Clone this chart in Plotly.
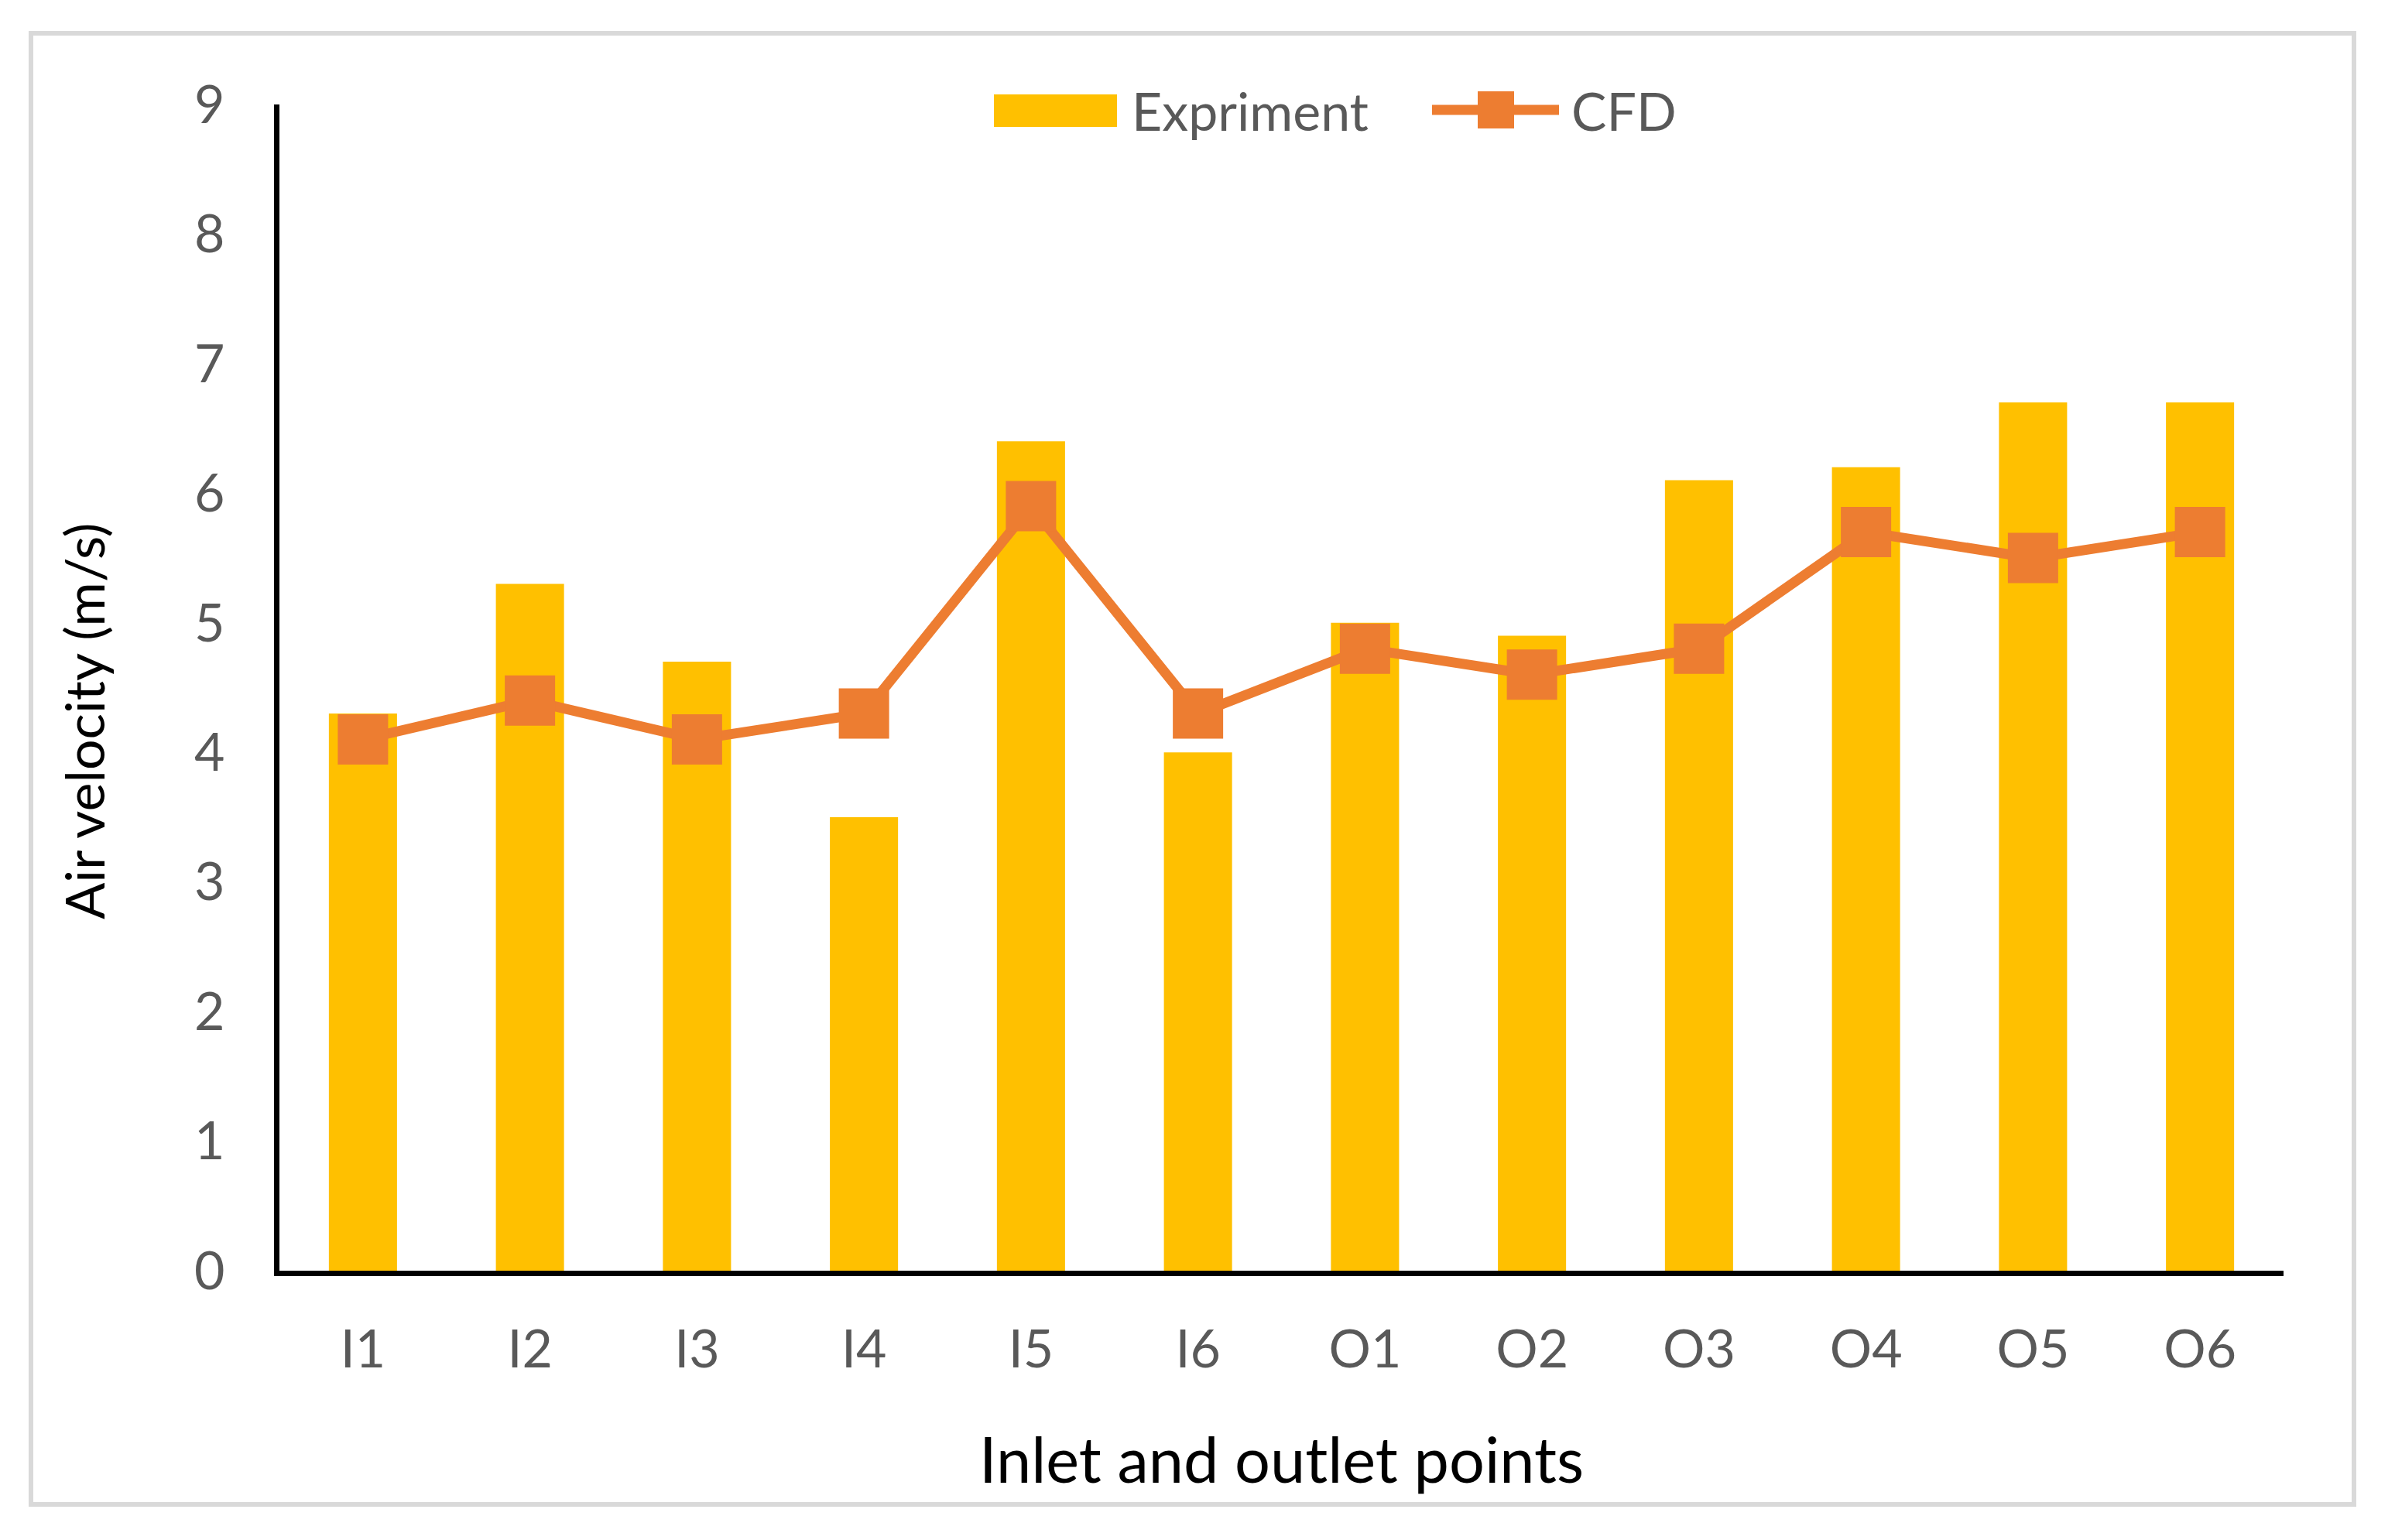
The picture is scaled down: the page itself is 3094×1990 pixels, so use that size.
import plotly.graph_objects as go

points = ["I1", "I2", "I3", "I4", "I5", "I6", "O1", "O2", "O3", "O4", "O5", "O6"]
experiment = [4.3, 5.3, 4.7, 3.5, 6.4, 4.0, 5.0, 4.9, 6.1, 6.2, 6.7, 6.7]
cfd = [4.1, 4.4, 4.1, 4.3, 5.9, 4.3, 4.8, 4.6, 4.8, 5.7, 5.5, 5.7]
y_ticks = list(range(0, 10))

bar_color = "#FFC000"
line_color = "#ED7D31"
text_grey = "#595959"
font_family = "Lato, Carlito, Calibri, sans-serif"

# page size, and the 8px body margin the browser puts round the figure
PAGE_W, PAGE_H = 3094, 1990
OFF = 8
W, H = PAGE_W - 2 * OFF, PAGE_H - 2 * OFF

# plot area on the page (pixels)
left, right, top, bottom = 361, 2950, 135, 1642
L, R, T, B = left - OFF, PAGE_W - OFF - right, top - OFF, PAGE_H - OFF - bottom
pw, ph = W - L - R, H - T - B


def px(x):
    return (x - OFF - L) / pw


def py(y):
    return (H - B - (y - OFF)) / ph


fig = go.Figure()
fig.add_trace(go.Bar(
    x=points, y=experiment, name="Expriment",
    marker=dict(color=bar_color, line=dict(width=0)),
    showlegend=False,
))
fig.add_trace(go.Scatter(
    x=points, y=cfd, name="CFD", mode="lines+markers",
    line=dict(color=line_color, width=13),
    marker=dict(symbol="square", size=65, color=line_color),
    showlegend=False,
))

fig.update_layout(
    width=W, height=H,
    margin=dict(l=L, r=R, t=T, b=B),
    plot_bgcolor="white",
    paper_bgcolor="white",
    bargap=0.592,
    font=dict(family=font_family, size=68, color=text_grey),
)

fig.update_xaxes(
    range=[-0.5, len(points) - 0.5],
    showgrid=False, zeroline=False,
    showline=True, linecolor="black", linewidth=7,
    ticks="", ticklabelstandoff=36,
    tickfont=dict(size=68, color=text_grey),
    title=dict(text="Inlet and outlet points",
               font=dict(size=81, color="black"), standoff=82),
)
fig.update_yaxes(
    range=[0, 9], tickvals=y_ticks,
    showgrid=False, zeroline=False,
    showline=True, linecolor="black", linewidth=7,
    ticks="", ticklabelstandoff=50,
    tickfont=dict(size=68, color=text_grey),
)

# y title sits a little below the middle of the plot in the original
fig.add_annotation(text="Air velocity (m/s)", xref="paper", yref="paper",
                   x=px(108), y=py(932), xanchor="center", yanchor="middle",
                   textangle=-90, showarrow=False,
                   font=dict(size=70, color="black"))

# outer chart border
fig.add_shape(type="rect", xref="paper", yref="paper",
              x0=px(40), x1=px(3041), y0=py(1944), y1=py(43),
              line=dict(color="#D9D9D9", width=6), layer="below")

# legend drawn by hand so the swatches match the original size
fig.add_shape(type="rect", xref="paper", yref="paper",
              x0=px(1284), x1=px(1443), y0=py(164), y1=py(122),
              fillcolor=bar_color, line=dict(width=0))
fig.add_shape(type="line", xref="paper", yref="paper",
              x0=px(1850), x1=px(2014), y0=py(142), y1=py(142),
              line=dict(color=line_color, width=13))
fig.add_shape(type="rect", xref="paper", yref="paper",
              x0=px(1909), x1=px(1956), y0=py(166), y1=py(118),
              fillcolor=line_color, line=dict(width=0))
fig.add_annotation(text="Expriment", xref="paper", yref="paper",
                   x=px(1460), y=py(142), xanchor="left", yanchor="middle",
                   showarrow=False, font=dict(size=68, color=text_grey))
fig.add_annotation(text="CFD", xref="paper", yref="paper",
                   x=px(2028), y=py(142), xanchor="left", yanchor="middle",
                   showarrow=False, font=dict(size=68, color=text_grey))

fig.write_html("out.html")
